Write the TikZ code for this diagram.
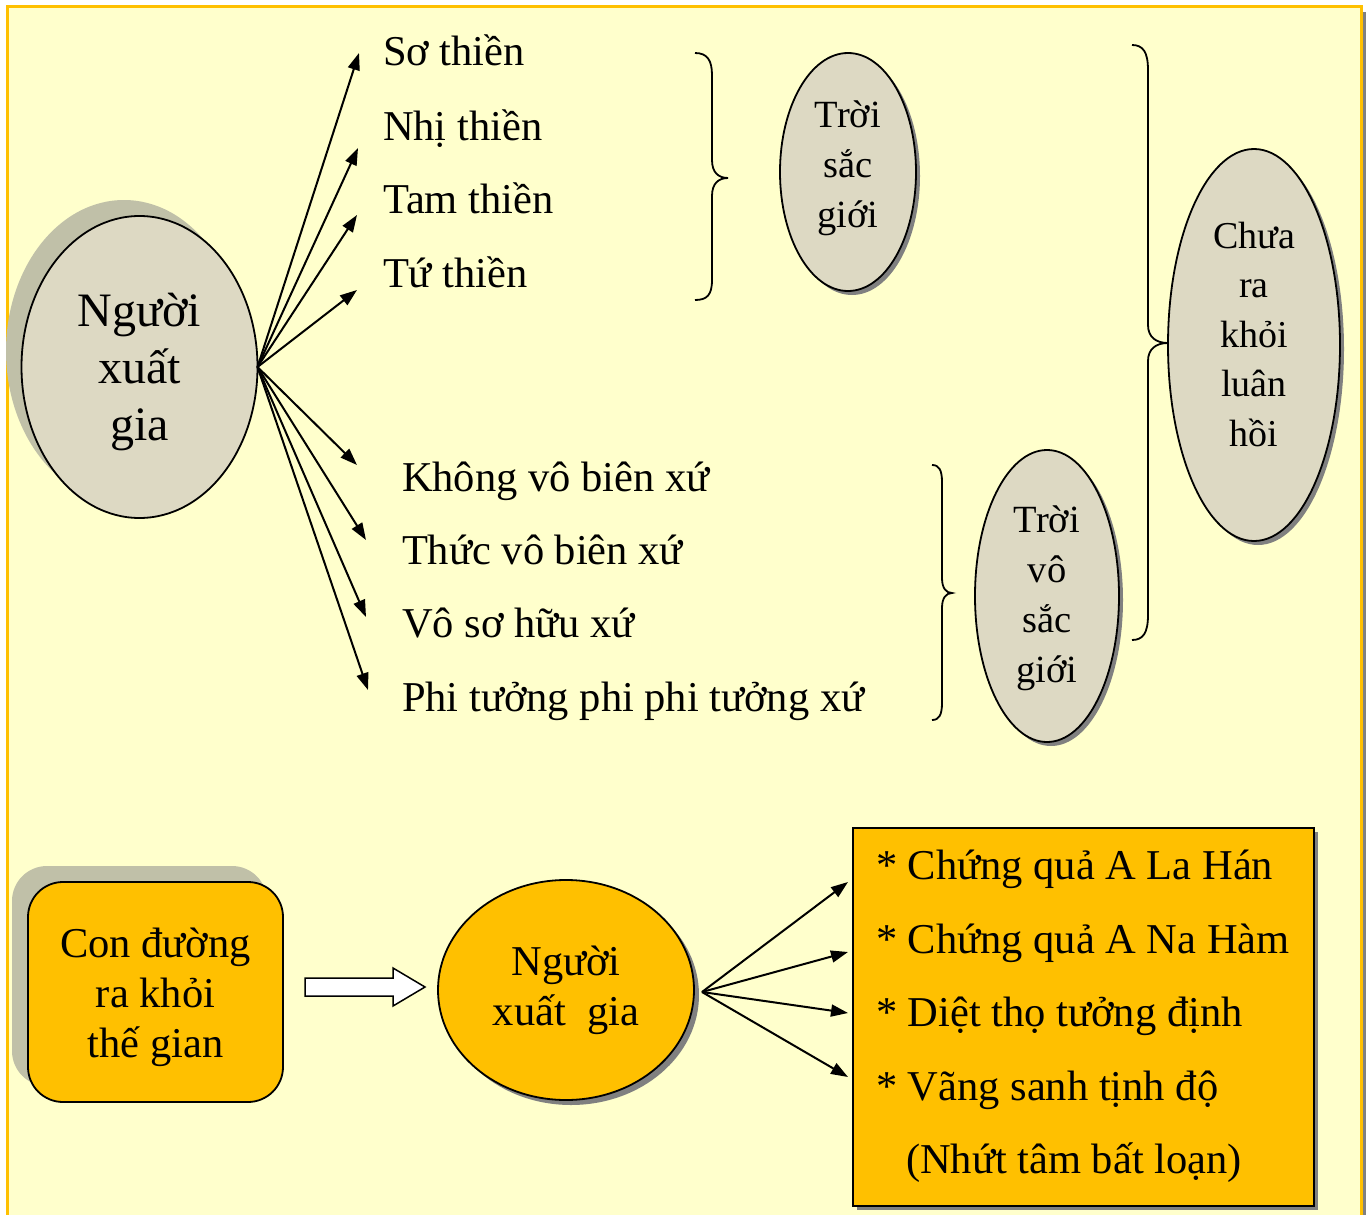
\documentclass[tikz,border=0pt]{standalone}
\usepackage{fontspec}
\setmainfont{Liberation Serif}
\usetikzlibrary{shapes.geometric,arrows.meta}
\definecolor{bgy}{HTML}{FFFFCC}
\definecolor{gold}{HTML}{FFC000}
\definecolor{tanfill}{HTML}{DDD9C3}
\definecolor{shlight}{HTML}{C0C0A8}
\definecolor{shdark}{HTML}{808080}
\begin{document}
\begin{tikzpicture}[x=1pt,y=-1pt,
  every node/.style={inner sep=0pt, outer sep=0pt},
  item/.style={anchor=base west, font=\fontsize{42.5}{50}\selectfont},
  tanell/.style={ellipse, draw, line width=1.8pt, fill=tanfill},
  goldell/.style={ellipse, draw, line width=1.8pt, fill=gold, align=center},
  elltext/.style={align=center, font=\fontsize{38.5}{50}\selectfont},
  arr/.style={line width=2pt, -{Triangle[length=17pt,width=12pt]}},
  bracestyle/.style={line width=1.8pt},
]
\useasboundingbox (0,0) rectangle (1369,1215);
\fill[white] (0,0) rectangle (1369,1215);
\fill[shdark] (1362,12) rectangle (1366,1215);
\draw[gold, line width=3pt, fill=bgy] (7,7) rectangle (1361,1230);

% ---- big ellipse ----
\fill[shlight] (124,351) ellipse [x radius=118, y radius=151];
\node[tanell, minimum width=236pt, minimum height=302pt] (pxg) at (139.5,367) {};
\node[align=center, font=\fontsize{48}{57}\selectfont] (pxgt) at (139.5,372) {Người\\xuất\\gia};

% ---- top list ----
\node[item] (l1) at (383,66) {Sơ thiền};
\node[item] (l2) at (383,140) {Nhị thiền};
\node[item] (l3) at (383,213) {Tam thiền};
\node[item] (l4) at (383,287) {Tứ thiền};
\node[item] (l5) at (402,491) {Không vô biên xứ};
\node[item] (l6) at (402,564) {Thức vô biên xứ};
\node[item] (l7) at (402,637) {Vô sơ hữu xứ};
\node[item] (l8) at (402,711) {Phi tưởng phi phi tưởng xứ};

\coordinate (t1) at (359,53);
\coordinate (t2) at (358,148);
\coordinate (t3) at (357,215);
\coordinate (t4) at (357,290);
\coordinate (t5) at (357,465);
\coordinate (t6) at (366,540);
\coordinate (t7) at (366,617);
\coordinate (t8) at (368,690);
\foreach \t in {t1,t2,t3,t4,t5,t6,t7,t8}
  \draw[arr] (pxg.east) -- (\t);

% ---- braces ----
\draw[bracestyle] (695,53) .. controls (707,53) and (712,60) .. (712,75) -- (712,160)
  .. controls (712,172) and (718,178) .. (728,178)
  .. controls (718,178) and (712,184) .. (712,196) -- (712,280)
  .. controls (712,295) and (707,300) .. (695,300);
\draw[bracestyle] (932,465) .. controls (939,465) and (942,470) .. (942,482) -- (942,578)
  .. controls (942,588) and (946,593) .. (952,593)
  .. controls (946,593) and (942,598) .. (942,608) -- (942,703)
  .. controls (942,715) and (939,720) .. (932,720);
\draw[bracestyle] (1132,45) .. controls (1143,45) and (1148,52) .. (1148,70) -- (1148,325)
  .. controls (1148,337) and (1156,343) .. (1168,343)
  .. controls (1156,343) and (1148,349) .. (1148,361) -- (1148,615)
  .. controls (1148,633) and (1143,640) .. (1132,640);

% ---- small ellipses ----
\fill[shdark] (852,176) ellipse [x radius=68, y radius=119];
\node[tanell, minimum width=136pt, minimum height=238pt] (tsg) at (848,172) {};
\node[elltext] (tsgt) at (848,168) {Trời\\sắc\\giới};

\fill[shdark] (1051,600) ellipse [x radius=72, y radius=146];
\node[tanell, minimum width=144pt, minimum height=292pt] (tvsg) at (1047,596) {};
\node[elltext] (tvsgt) at (1047,598) {Trời\\vô\\sắc\\giới};

\fill[shdark] (1258,349) ellipse [x radius=86, y radius=196];
\node[tanell, minimum width=172pt, minimum height=392pt] (crk) at (1254,345) {};
\node[elltext, font=\fontsize{38}{49.5}\selectfont] (crkt) at (1254,334) {Chưa\\ra\\khỏi\\luân\\hồi};

% ---- bottom part ----
\fill[shlight, rounded corners=35pt] (12,866) rectangle (267,1086);
\node[draw, line width=1.8pt, fill=gold, rounded corners=35pt, minimum width=255pt, minimum height=220pt] (cd) at (155.5,992) {};
\node[align=center, font=\fontsize{42.5}{50}\selectfont] (cdt) at (155.5,997) {Con đường\\ra khỏi\\thế gian};

\draw[line width=1.5pt, fill=white] (305,978) -- (393,978) -- (393,968) -- (425,987) -- (393,1006) -- (393,996) -- (305,996) -- cycle;

\fill[shdark] (571,995) ellipse [x radius=128, y radius=110];
\node[goldell, minimum width=256pt, minimum height=220pt, font=\fontsize{42.5}{50}\selectfont] (be) at (566,990) {Người\\xuất~~gia};

\fill[shdark] (857,832) rectangle (1318,1210);
\node[draw, line width=2pt, fill=gold, minimum width=461pt, minimum height=378pt] (rb) at (1083.5,1017) {};
\node[item] (r1) at (876,879) {* Chứng quả A La Hán};
\node[item] (r2) at (876,953) {* Chứng quả A Na Hàm};
\node[item] (r3) at (876,1026) {* Diệt thọ tưởng định};
\node[item] (r4) at (876,1100) {* Vãng sanh tịnh độ};
\node[item] (r5) at (906,1173) {(Nhứt tâm bất loạn)};

\coordinate (bo) at (702,992);
\coordinate (s1) at (848,882);
\coordinate (s2) at (848,952);
\coordinate (s3) at (848,1013);
\coordinate (s4) at (848,1077);
\foreach \s in {s1,s2,s3,s4}
  \draw[arr] (bo) -- (\s);
\end{tikzpicture}
\end{document}
